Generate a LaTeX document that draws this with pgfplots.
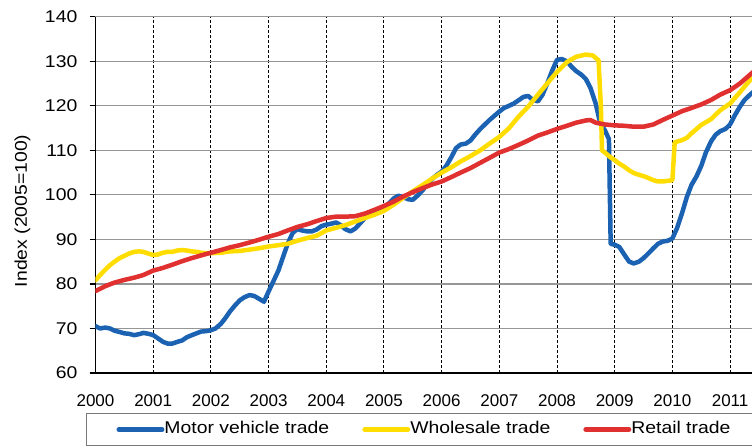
\documentclass[border=0pt]{standalone}
\usepackage{graphicx}
\usepackage{pgfplots}
\pgfplotsset{compat=1.18}
\usepackage{fontspec}
\setmainfont{Liberation Sans}
\definecolor{mvblue}{RGB}{28,98,178}
\definecolor{wsyellow}{RGB}{255,221,0}
\definecolor{rtred}{RGB}{224,48,48}
\definecolor{gridgray}{RGB}{150,150,150}
\definecolor{leggray}{RGB}{120,120,120}

\pgfplotstableread{
x y
2000.00 70.5
2000.08 70.0
2000.17 70.2
2000.25 70.0
2000.33 69.5
2000.42 69.2
2000.50 68.9
2000.58 68.8
2000.67 68.5
2000.75 68.7
2000.83 69.0
2000.92 68.8
2001.00 68.5
2001.08 67.8
2001.17 67.0
2001.25 66.6
2001.33 66.6
2001.42 67.0
2001.50 67.3
2001.58 68.0
2001.67 68.5
2001.75 68.9
2001.83 69.3
2001.92 69.4
2002.00 69.6
2002.08 70.0
2002.17 71.0
2002.25 72.3
2002.33 73.8
2002.42 75.2
2002.50 76.3
2002.58 77.0
2002.67 77.5
2002.75 77.3
2002.83 76.7
2002.92 76.0
2003.00 78.3
2003.08 80.5
2003.17 83.0
2003.25 86.0
2003.33 89.0
2003.42 91.5
2003.50 92.3
2003.58 92.0
2003.67 91.8
2003.75 91.8
2003.83 92.2
2003.92 93.0
2004.00 93.3
2004.08 93.5
2004.17 93.8
2004.25 93.2
2004.33 92.3
2004.42 91.8
2004.50 92.4
2004.58 93.5
2004.67 94.8
2004.75 95.5
2004.83 96.0
2004.92 96.5
2005.00 97.0
2005.08 98.0
2005.17 99.2
2005.25 99.8
2005.33 99.5
2005.42 99.0
2005.50 98.9
2005.58 99.8
2005.67 101.0
2005.75 102.5
2005.83 103.5
2005.92 104.5
2006.00 105.2
2006.08 106.5
2006.17 108.5
2006.25 110.5
2006.33 111.3
2006.42 111.5
2006.50 112.2
2006.58 113.5
2006.67 114.8
2006.75 115.8
2006.83 116.8
2006.92 117.8
2007.00 118.7
2007.08 119.5
2007.17 120.0
2007.25 120.5
2007.33 121.2
2007.42 122.0
2007.50 122.2
2007.58 121.3
2007.67 121.0
2007.75 122.5
2007.83 125.0
2007.92 128.0
2008.00 130.3
2008.08 130.5
2008.17 130.0
2008.25 128.8
2008.33 127.8
2008.42 127.0
2008.50 126.0
2008.58 124.0
2008.67 120.5
2008.75 116.0
2008.83 114.5
2008.90 112.5
2008.93 89.0
2009.00 88.8
2009.08 88.3
2009.17 86.5
2009.25 85.0
2009.33 84.6
2009.42 85.0
2009.50 85.8
2009.58 86.8
2009.67 88.0
2009.75 89.0
2009.83 89.5
2009.92 89.7
2010.00 90.2
2010.08 92.5
2010.17 96.0
2010.25 99.5
2010.33 102.2
2010.42 104.2
2010.50 106.5
2010.58 109.5
2010.67 112.0
2010.75 113.5
2010.83 114.3
2010.92 114.8
2011.00 115.8
2011.08 117.8
2011.17 119.8
2011.25 121.3
2011.33 122.3
2011.42 123.3
}\motor

\pgfplotstableread{
x y
2000.00 80.8
2000.08 82.0
2000.17 83.2
2000.25 84.2
2000.33 85.0
2000.42 85.8
2000.50 86.3
2000.58 86.8
2000.67 87.2
2000.75 87.3
2000.83 87.2
2000.92 86.8
2001.00 86.5
2001.08 86.6
2001.17 87.0
2001.25 87.2
2001.33 87.2
2001.42 87.5
2001.50 87.6
2001.58 87.5
2001.67 87.3
2001.75 87.2
2001.83 87.0
2001.92 86.9
2002.00 86.9
2002.17 87.0
2002.33 87.3
2002.50 87.4
2002.67 87.7
2002.83 88.0
2003.00 88.4
2003.17 88.7
2003.33 89.0
2003.50 89.7
2003.67 90.3
2003.83 90.8
2004.00 92.0
2004.17 92.6
2004.33 93.2
2004.50 94.0
2004.67 94.8
2004.83 95.5
2005.00 96.4
2005.17 97.8
2005.33 99.3
2005.50 100.8
2005.67 102.2
2005.83 103.6
2006.00 105.0
2006.17 106.2
2006.33 107.5
2006.50 108.7
2006.67 110.0
2006.83 111.5
2007.00 113.0
2007.17 115.0
2007.33 117.5
2007.50 119.8
2007.67 122.5
2007.83 125.0
2008.00 127.6
2008.17 129.8
2008.33 131.0
2008.50 131.5
2008.62 131.3
2008.72 130.2
2008.76 120.0
2008.78 110.0
2008.83 109.5
2008.92 108.5
2009.00 107.8
2009.08 107.0
2009.17 106.3
2009.25 105.5
2009.33 104.9
2009.42 104.5
2009.50 104.2
2009.58 103.8
2009.67 103.3
2009.75 103.0
2009.83 103.0
2009.95 103.2
2010.00 103.3
2010.04 111.8
2010.17 112.3
2010.25 112.8
2010.33 113.8
2010.42 114.8
2010.50 115.7
2010.58 116.3
2010.67 117.0
2010.75 118.0
2010.83 119.0
2010.92 119.8
2011.00 120.5
2011.08 121.7
2011.17 123.0
2011.25 124.3
2011.33 125.5
2011.42 126.5
}\wholesale

\pgfplotstableread{
x y
2000.00 78.4
2000.17 79.5
2000.33 80.3
2000.50 80.9
2000.67 81.4
2000.83 82.0
2001.00 83.0
2001.17 83.6
2001.33 84.3
2001.50 85.1
2001.67 85.8
2001.83 86.4
2002.00 87.0
2002.17 87.6
2002.33 88.2
2002.50 88.7
2002.67 89.3
2002.83 89.9
2003.00 90.6
2003.17 91.2
2003.33 92.0
2003.50 92.8
2003.67 93.4
2003.83 94.1
2004.00 94.8
2004.17 95.1
2004.33 95.1
2004.50 95.2
2004.67 95.8
2004.83 96.6
2005.00 97.5
2005.17 98.5
2005.33 99.6
2005.50 100.6
2005.67 101.5
2005.83 102.3
2006.00 103.0
2006.17 104.0
2006.33 105.0
2006.50 106.0
2006.67 107.2
2006.83 108.3
2007.00 109.5
2007.17 110.3
2007.33 111.2
2007.50 112.2
2007.67 113.3
2007.83 114.0
2008.00 114.8
2008.17 115.5
2008.33 116.2
2008.50 116.7
2008.58 116.8
2008.67 116.2
2008.83 115.8
2009.00 115.6
2009.17 115.5
2009.33 115.3
2009.50 115.3
2009.67 115.8
2009.83 116.8
2010.00 117.8
2010.17 118.8
2010.33 119.5
2010.50 120.3
2010.67 121.3
2010.83 122.5
2011.00 123.5
2011.17 125.0
2011.33 126.8
2011.42 127.8
}\retail

\begin{document}
\begin{tikzpicture}
\begin{axis}[
  scale only axis,
  width=656.5bp, height=356.3bp,
  xmin=2000, xmax=2011.38,
  ymin=60, ymax=140,
  axis x line=bottom, axis y line=left,
  axis line style={-, line width=1.3bp, black},
  xtick={2000,2001,2002,2003,2004,2005,2006,2007,2008,2009,2010,2011},
  xticklabels={2000,2001,2002,2003,2004,2005,2006,2007,2008,2009,2010,2011},
  ytick={60,70,80,90,100,110,120,130,140},
  yticklabel={\scalebox{1.14}[1]{\pgfmathprintnumber{\tick}}},
  /pgf/number format/assume math mode=true,
  xmajorgrids, ymajorgrids,
  x grid style={black, line width=0.9bp, dash pattern=on 3bp off 2bp},
  y grid style={gridgray, line width=1.2bp},
  xtick style={draw=none},
  ytick style={black, line width=1.3bp},
  tick align=outside,
  major tick length=6bp,
  ticklabel style={font=\fontsize{17bp}{20bp}\selectfont, inner sep=0pt},
  yticklabel style={xshift=-12bp},
  xticklabel style={yshift=-15bp},
  ylabel={\scalebox{1.14}[1]{Index (2005=100)}},
  ylabel style={font=\fontsize{17bp}{20bp}\selectfont, at={(axis description cs:-0.1112,0.455)}, anchor=center, inner sep=0pt},
  legend columns=3,
  legend style={at={(axis description cs:0,0)}, anchor=north west,
    xshift=-9.5bp, yshift=-40bp,
    draw=leggray, line width=1bp,
    inner xsep=30bp, inner ysep=8bp,
    font=\fontsize{17bp}{20bp}\selectfont,
    nodes={inner sep=0pt, text height=12.5bp, text depth=3.5bp},
    /tikz/every odd column/.append style={column sep=0bp},
    /tikz/every even column/.append style={column sep=33bp}},
  legend image code/.code={\draw[#1, line width=5bp, line cap=round] (0bp,0bp) -- (43bp,0bp);},
  every axis plot/.append style={line width=4.5bp, line cap=round, line join=round},
]
\addplot[mvblue, no markers] table[x=x, y=y] {\motor};
\addlegendentry{\scalebox{1.14}[1]{Motor vehicle trade}}
\addplot[wsyellow, no markers] table[x=x, y=y] {\wholesale};
\addlegendentry{\scalebox{1.14}[1]{Wholesale trade}}
\addplot[rtred, no markers] table[x=x, y=y] {\retail};
\addlegendentry{\scalebox{1.14}[1]{Retail trade}}
\coordinate (ll) at (rel axis cs:0,0);
\coordinate (ur) at (rel axis cs:1,1);
\end{axis}
\pgfresetboundingbox
\path[use as bounding box] ([xshift=-95.5bp, yshift=-73bp]ll) rectangle ([yshift=16.7bp]ur);
\end{tikzpicture}
\end{document}
